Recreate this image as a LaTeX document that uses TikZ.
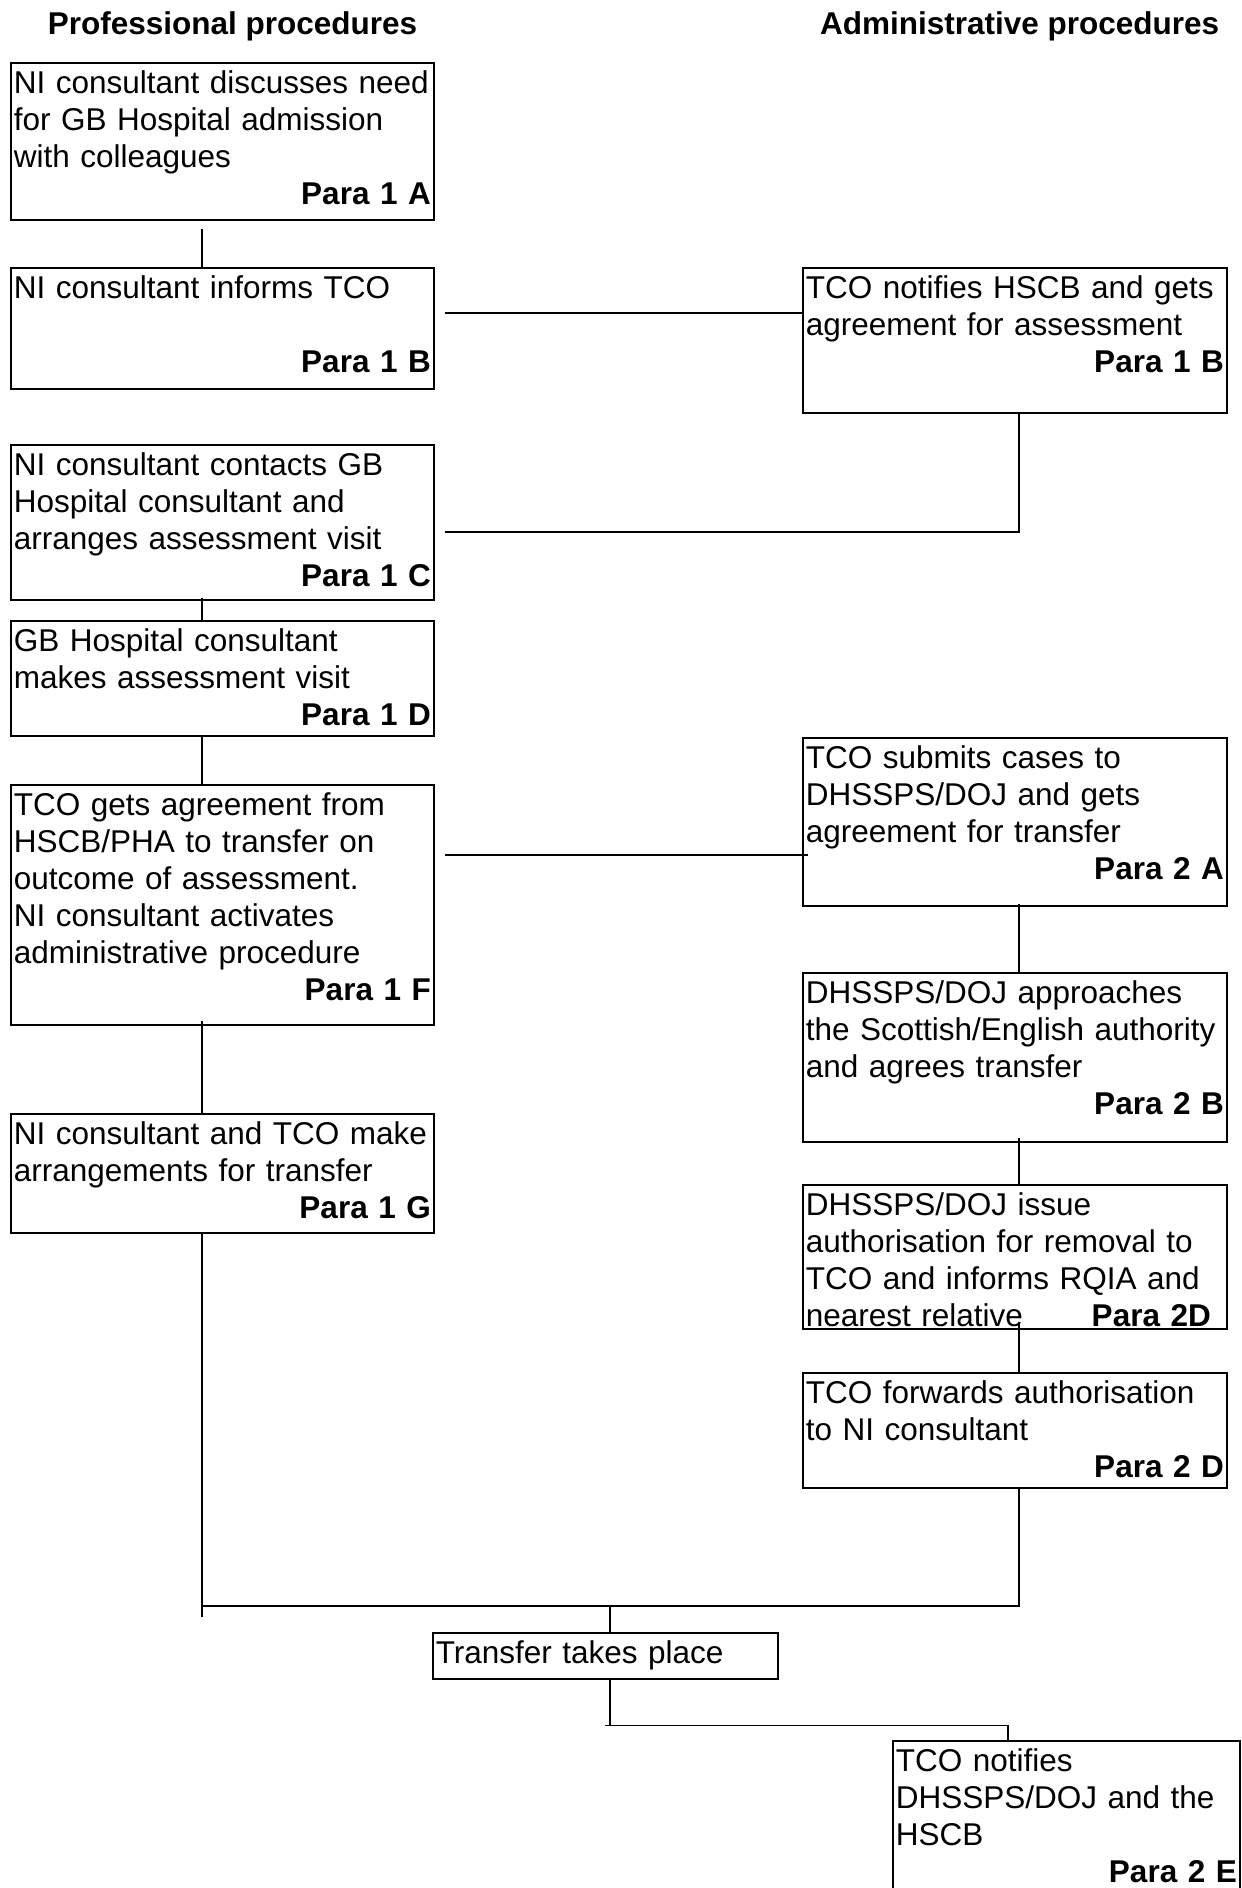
\documentclass[tikz,border=0pt]{standalone}
\usepackage{fontspec}
\setmainfont{Liberation Sans}
\usetikzlibrary{positioning, calc}
\newcommand{\stagefont}{\fontsize{15.75pt}{18.5pt}\selectfont}
\newcommand{\pararef}[1]{\\\hspace*{0pt plus 1filll}\textbf{Para #1}}

\begin{document}
\begin{tikzpicture}[x=0.5pt, y=-0.5pt, line width=0.8pt,
    stage/.style={draw, anchor=north west, inner xsep=1.5pt, inner ysep=0pt,
      text width=208.5pt, align=left, text height=15.5pt, text depth=#1, font=\stagefont},
    adm/.style={stage=#1, text width=209pt},
    head/.style={inner sep=0pt, font=\stagefont\bfseries}]
  \clip (0,0) rectangle (1241,1888);

  % SPINES
  \coordinate (spineP) at (202,0);
  \coordinate (spineA) at (1019,0);
  \coordinate (bar) at (610,1606);

  % HEADINGS
  \node[head, anchor=base west] (profhead) at (47,35) {Professional procedures};
  \node[head, anchor=base east] (admhead) at (1220,35) {Administrative procedures};

  % PROFESSIONAL
  \node[stage=63pt] (pA) at (10,62) {NI consultant discusses need\\for GB Hospital admission\\with colleagues\pararef{1 A}};
  \node[stage=45pt] (pB) at (10,267) {NI consultant informs TCO\\\mbox{}\pararef{1 B}};
  \node[stage=62pt] (pC) at (10,444) {NI consultant contacts GB\\Hospital consultant and\\arranges assessment visit\pararef{1 C}};
  \node[stage=42pt] (pD) at (10,620) {GB Hospital consultant\\makes assessment visit\pararef{1 D}};
  \node[stage=104.5pt] (pF) at (10,784) {TCO gets agreement from\\HSCB/PHA to transfer on\\outcome of assessment.\\NI consultant activates\\administrative procedure\pararef{1 F}};
  \node[stage=44pt] (pG) at (10,1113) {NI consultant and TCO make\\arrangements for transfer\pararef{1 G}};

  % ADMINISTRATIVE
  \node[adm=57pt] (aB) at (802,267) {TCO notifies HSCB and gets\\agreement for assessment\pararef{1 B}};
  \node[adm=68.5pt] (aA) at (802,737) {TCO submits cases to\\DHSSPS/DOJ and gets\\agreement for transfer\pararef{2 A}};
  \node[adm=69pt] (aB2) at (802,972) {DHSSPS/DOJ approaches\\the Scottish/English authority\\and agrees transfer\pararef{2 B}};
  \node[adm=56.5pt] (aD) at (802,1184) {DHSSPS/DOJ issue\\authorisation for removal to\\TCO and informs RQIA and\\nearest relative\hspace{0pt plus 1filll}\textbf{Para 2D}\kern6.5pt};
  \node[adm=42pt] (aD2) at (802,1372) {TCO forwards authorisation\\to NI consultant\pararef{2 D}};

  % TRANSFER
  \node[stage=7.5pt, text width=169.5pt] (tp) at (432,1632) {Transfer takes place};
  \node[stage=100pt, text width=170.5pt] (aE) at (892,1740) {TCO notifies\\DHSSPS/DOJ and the\\HSCB\pararef{2 E}};

  % LINKS
  \draw ([yshift=-4pt]pA.south -| spineP) -- (pB.north -| spineP);
  \draw ($(pB.north east)+(10,46)$) -- ($(aB.north west)+(0,46)$);
  \draw (aB.south -| spineA) |- ($(pC.north east)+(10,88)$);
  \draw ([yshift=1.5pt]pC.south -| spineP) -- (pD.north -| spineP);
  \draw (pD.south -| spineP) -- (pF.north -| spineP);
  \draw ($(pF.north east)+(10,71)$) -- ($(aA.north west)+(6,118)$);
  \draw ([yshift=2.5pt]pF.south -| spineP) -- (pG.north -| spineP);
  \draw ([yshift=1.5pt]aA.south -| spineA) -- (aB2.north -| spineA);
  \draw ([yshift=2.5pt]aB2.south -| spineA) -- (aD.north -| spineA);
  \draw ([yshift=3pt]aD.south -| spineA) -- (aD2.north -| spineA);
  \draw (pG.south -| spineP) -- ++(0,383);
  \draw (aD2.south -| spineA) |- (bar -| spineP);
  \draw (bar) -- (tp.north -| bar);
  \draw (tp.south -| bar) -- ++(0,46) coordinate (kink);
  \draw ([xshift=-2.5pt]kink) -| ($(aE.north west)+(116,2)$);
\end{tikzpicture}
\end{document}
